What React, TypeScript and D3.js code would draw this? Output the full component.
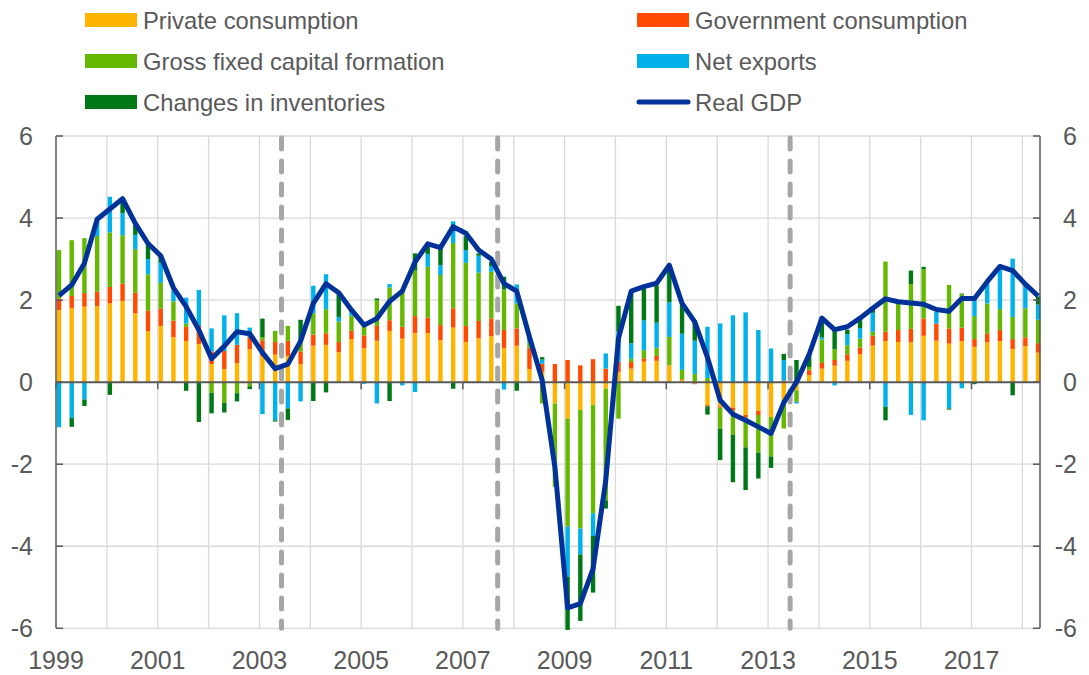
import React from 'react';
import * as d3 from 'd3';

// Quarterly contributions to real GDP growth (percentage points), 1999Q1–2018Q2
const privateConsumption = [
  1.76, 1.81, 1.84, 1.85, 1.92, 1.98, 1.68, 1.24, 1.37, 1.10, 1.00, 0.93, 0.44, 0.32, 0.46, 0.80,
  0.64, 0.67, 0.64, 0.44, 0.89, 0.91, 0.73, 1.05, 0.83, 1.01, 1.25, 1.06, 1.20, 1.20, 1.02, 1.33,
  0.98, 1.07, 1.12, 0.83, 0.89, 0.32, 0.25, -0.52, -0.89, -0.68, -0.56, -0.16, 0.25, 0.33, 0.50, 0.52,
  0.41, 0.05, -0.03, -0.56, -0.59, -0.62, -0.80, -0.70, -0.85, -0.44, -0.20, 0.17, 0.33, 0.40, 0.52, 0.68,
  0.89, 1.00, 0.98, 0.97, 1.13, 1.01, 0.94, 1.00, 0.86, 0.97, 1.00, 0.81, 0.88, 0.72,
];
const governmentConsumption = [
  0.28, 0.29, 0.33, 0.36, 0.40, 0.42, 0.50, 0.50, 0.42, 0.40, 0.35, 0.44, 0.31, 0.44, 0.45, 0.30,
  0.38, 0.31, 0.37, 0.31, 0.27, 0.28, 0.25, 0.20, 0.31, 0.36, 0.26, 0.29, 0.41, 0.37, 0.37, 0.47,
  0.39, 0.42, 0.43, 0.44, 0.42, 0.52, 0.20, 0.44, 0.54, 0.41, 0.56, 0.33, 0.25, 0.16, 0.08, 0.12,
  0.00, 0.02, -0.02, -0.03, -0.03, -0.07, -0.06, -0.10, 0.00, 0.04, 0.00, 0.12, 0.14, 0.14, 0.16, 0.16,
  0.24, 0.23, 0.29, 0.33, 0.42, 0.42, 0.37, 0.33, 0.19, 0.22, 0.27, 0.24, 0.21, 0.23,
];
const grossFixedCapitalFormation = [
  1.18, 1.36, 1.34, 1.35, 1.33, 1.18, 1.06, 0.89, 0.63, 0.47, 0.08, 0.00, -0.26, -0.50, -0.27, -0.10,
  0.08, 0.27, 0.36, 0.24, 0.52, 0.59, 0.50, 0.37, 0.23, 0.63, 0.80, 0.88, 1.11, 1.24, 1.22, 1.59,
  1.54, 1.18, 1.14, 0.99, 0.61, 0.12, -0.52, -2.03, -2.63, -2.89, -2.64, -2.72, -0.89, 0.08, 0.20, 0.20,
  0.69, 0.23, 0.20, 0.10, -0.51, -0.59, -0.73, -0.92, -0.96, -0.69, -0.28, 0.08, 0.57, 0.26, 0.22, 0.22,
  0.10, 1.71, 0.68, 1.09, 1.20, 0.00, 1.06, 0.81, 0.56, 0.73, 0.51, 0.54, 0.71, 0.57,
];
const netExports = [
  -1.10, -0.87, -0.42, 0.35, 0.87, 0.54, 0.35, 0.37, 0.49, 0.27, 0.63, 0.88, 0.56, 0.87, 0.77, 0.23,
  -0.78, -0.93, -0.64, -0.47, 0.67, 0.85, 0.11, 0.09, -0.04, -0.52, 0.08, -0.08, -0.24, 0.31, 0.24, 0.53,
  0.31, 0.41, 0.14, -0.18, 0.46, 0.08, 0.10, 0.00, -1.22, -0.63, -0.55, 0.37, 0.73, 0.38, 0.73, 0.61,
  0.85, 0.88, 0.81, 1.25, 1.43, 1.63, 1.70, 1.27, 0.82, 0.50, -0.04, 0.00, 0.05, -0.08, 0.27, 0.26,
  0.46, -0.60, 0.00, -0.80, -0.93, 0.28, -0.64, -0.15, 0.44, 0.50, 1.03, 1.42, 0.58, 0.37,
];
const changesInInventories = [
  0.00, -0.22, -0.16, 0.04, -0.31, 0.32, 0.24, 0.34, 0.15, 0.00, -0.21, -0.97, -0.50, -0.24, -0.20, -0.07,
  0.45, -0.03, -0.28, 0.53, -0.46, -0.25, 0.55, 0.02, 0.03, 0.04, -0.46, 0.00, 0.42, 0.26, 0.43, -0.16,
  0.34, 0.06, 0.10, 0.31, -0.21, 0.06, 0.06, 0.00, -1.30, -1.62, -1.38, -0.20, 0.63, 1.28, 0.77, 0.91,
  0.87, 0.71, 0.50, -0.20, -0.77, -1.16, -1.04, -0.63, -0.28, 0.15, 0.54, 0.33, 0.38, 0.47, 0.11, 0.19,
  0.07, -0.33, 0.00, 0.33, 0.06, 0.00, -0.03, 0.02, -0.05, 0.00, 0.00, -0.32, 0.00, 0.20,
];
const realGDP = [
  2.11, 2.37, 2.90, 3.97, 4.22, 4.47, 3.87, 3.38, 3.08, 2.30, 1.84, 1.27, 0.57, 0.88, 1.23, 1.18,
  0.72, 0.33, 0.44, 1.00, 1.92, 2.40, 2.18, 1.76, 1.39, 1.55, 1.97, 2.22, 2.93, 3.37, 3.28, 3.79,
  3.63, 3.22, 3.00, 2.40, 2.22, 1.10, 0.05, -2.07, -5.50, -5.40, -4.55, -2.40, 1.07, 2.22, 2.33, 2.41,
  2.85, 1.92, 1.47, 0.60, -0.44, -0.78, -0.93, -1.09, -1.25, -0.50, 0.00, 0.68, 1.56, 1.28, 1.35, 1.56,
  1.80, 2.03, 1.96, 1.93, 1.90, 1.77, 1.73, 2.04, 2.04, 2.45, 2.82, 2.72, 2.39, 2.10,
];

const quarterLabels = realGDP.map((_, i) => `${1999 + Math.floor(i / 4)}Q${(i % 4) + 1}`);
const yearTickLabels = ['1999', '2001', '2003', '2005', '2007', '2009', '2011', '2013', '2015', '2017'];
const yTickValues = [-6, -4, -2, 0, 2, 4, 6];
// recession/period markers, positioned between quarters (quarter index)
const markerPositions = [17.5, 34.5, 57.5];

const seriesKeys = ['private', 'government', 'gfcf', 'netExports', 'inventories'];
const seriesLabels = [
  'Private consumption',
  'Government consumption',
  'Gross fixed capital formation',
  'Net exports',
  'Changes in inventories',
];
const seriesColors = ['#FFB400', '#FF4B00', '#65B800', '#00B1EA', '#007816'];
const gdpColor = '#003299';

const FONT = '"Liberation Sans", Arial, Helvetica, sans-serif';
const TEXT = '#595959';

export default function App() {
  const W = 1089;
  const H = 675;
  const left = 56;
  const right = 1040;
  const top = 136;
  const bottom = 628.3;

  const table = quarterLabels.map((q, i) => ({
    q,
    i,
    private: privateConsumption[i],
    government: governmentConsumption[i],
    gfcf: grossFixedCapitalFormation[i],
    netExports: netExports[i],
    inventories: changesInInventories[i],
  }));

  const xTime = d3.scaleLinear().domain([1999, 2018.347]).range([left, right]);
  const xBar = (i: number) => xTime(1999 + i / 4) + 3;
  const y = d3.scaleLinear().domain([-6, 6]).range([bottom, top]);

  const stacked = d3
    .stack<any>()
    .keys(seriesKeys)
    .offset(d3.stackOffsetDiverging)(table);

  const barW = 4.4;

  const line = d3
    .line<number>()
    .x((_, i) => xBar(i))
    .y((d) => y(d));

  const years = d3.range(2000, 2019);

  const legendItems = [
    { label: seriesLabels[0], color: seriesColors[0], x: 85, row: 0, type: 'rect' },
    { label: seriesLabels[1], color: seriesColors[1], x: 637, row: 0, type: 'rect' },
    { label: seriesLabels[2], color: seriesColors[2], x: 85, row: 1, type: 'rect' },
    { label: seriesLabels[3], color: seriesColors[3], x: 637, row: 1, type: 'rect' },
    { label: seriesLabels[4], color: seriesColors[4], x: 85, row: 2, type: 'rect' },
    { label: 'Real GDP', color: gdpColor, x: 637, row: 2, type: 'line' },
  ];
  const rowY = [20, 61, 102];

  return (
    <svg
      width={W}
      height={H}
      style={{ position: 'absolute', left: 0, top: 0, background: '#fff' }}
      fontFamily={FONT}
    >
      {/* legend */}
      {legendItems.map((it, k) => (
        <g key={k}>
          {it.type === 'rect' ? (
            <rect x={it.x} y={rowY[it.row] - 7} width={52} height={14} fill={it.color} />
          ) : (
            <line
              x1={it.x + 2}
              x2={it.x + 51}
              y1={rowY[it.row]}
              y2={rowY[it.row]}
              stroke={it.color}
              strokeWidth={5}
              strokeLinecap="round"
            />
          )}
          <text x={it.x + 58} y={rowY[it.row] + 8.5} fontSize={23.8} fill={TEXT}>
            {it.label}
          </text>
        </g>
      ))}

      {/* grid */}
      {yTickValues.map((v) =>
        v === 0 ? null : (
          <line key={'hg' + v} x1={left} x2={right} y1={y(v)} y2={y(v)} stroke="#D9D9D9" strokeWidth={1.3} />
        )
      )}
      {years.map((yr) => (
        <line key={'vg' + yr} x1={xTime(yr)} x2={xTime(yr)} y1={top} y2={bottom} stroke="#D9D9D9" strokeWidth={1.3} />
      ))}

      {/* bars */}
      {stacked.map((s, si) => (
        <g key={s.key} fill={seriesColors[si]}>
          {s.map((d, i) => {
            const y0 = y(d[0]);
            const y1 = y(d[1]);
            const h = Math.abs(y0 - y1);
            if (h < 0.01) return null;
            return <rect key={i} x={xBar(i) - barW / 2} y={Math.min(y0, y1)} width={barW} height={h} />;
          })}
        </g>
      ))}

      {/* axes */}
      <line x1={left} x2={left} y1={top} y2={bottom} stroke={TEXT} strokeWidth={1.5} />
      <line x1={right} x2={right} y1={top} y2={bottom} stroke={TEXT} strokeWidth={1.5} />
      {yTickValues.map((v) => (
        <g key={'yt' + v}>
          <line x1={left} x2={left + 7} y1={y(v)} y2={y(v)} stroke={TEXT} strokeWidth={1.5} />
          <line x1={right - 7} x2={right} y1={y(v)} y2={y(v)} stroke={TEXT} strokeWidth={1.5} />
          <text x={33} y={y(v)} dy="0.36em" textAnchor="end" fontSize={25} fill={TEXT}>
            {v}
          </text>
          <text x={1077} y={y(v)} dy="0.36em" textAnchor="end" fontSize={25} fill={TEXT}>
            {v}
          </text>
        </g>
      ))}
      <line x1={left} x2={right} y1={y(0)} y2={y(0)} stroke={TEXT} strokeWidth={2} />
      {yearTickLabels.map((lab) => {
        const xx = xTime(+lab);
        return (
          <g key={'xt' + lab}>
            <line x1={xx} x2={xx} y1={y(0)} y2={y(0) + 7} stroke={TEXT} strokeWidth={1.5} />
            <text x={xx} y={669} textAnchor="middle" fontSize={25} fill={TEXT}>
              {lab}
            </text>
          </g>
        );
      })}

      {/* dashed markers */}
      {markerPositions.map((p) => (
        <line
          key={'m' + p}
          x1={xBar(p)}
          x2={xBar(p)}
          y1={top + 2}
          y2={bottom}
          stroke="#A6A6A6"
          strokeWidth={5}
          strokeDasharray="11 12"
          strokeLinecap="round"
        />
      ))}

      {/* GDP line */}
      <path d={line(realGDP) || ''} fill="none" stroke={gdpColor} strokeWidth={5} strokeLinejoin="round" />
    </svg>
  );
}
